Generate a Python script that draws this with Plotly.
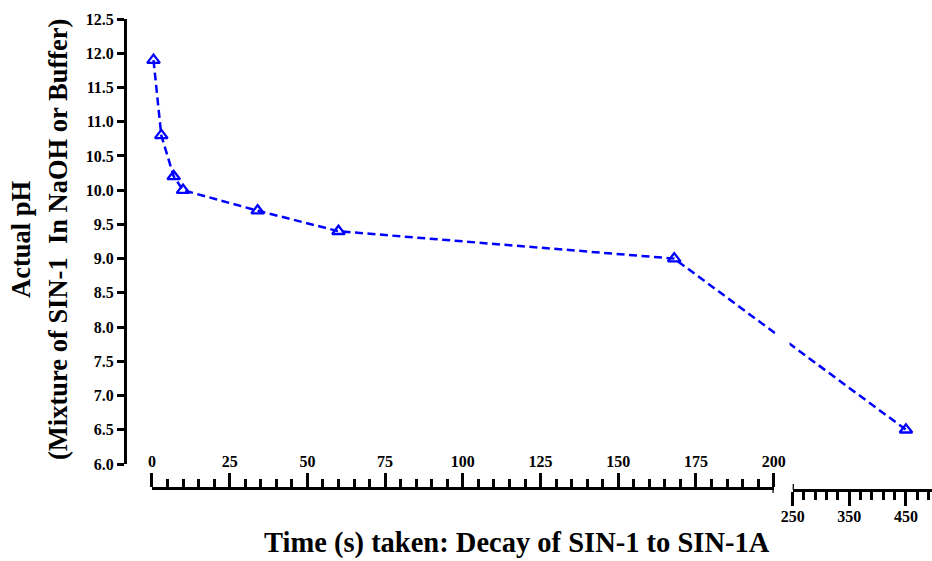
import plotly.graph_objects as go

# Measured pH of SIN-1 mixture over time
time_s = [0.5, 3, 7, 10, 34, 60, 168, 450]
ph = [11.9, 10.8, 10.2, 10.0, 9.7, 9.4, 9.0, 6.5]

y_ticks = [6.0, 6.5, 7.0, 7.5, 8.0, 8.5, 9.0, 9.5, 10.0, 10.5, 11.0, 11.5, 12.0, 12.5]
y_ticktext = [f"{v:.1f}" for v in y_ticks]
seg1_ticks = [0, 25, 50, 75, 100, 125, 150, 175, 200]
seg2_ticks = [250, 350, 450]

FONT = "Liberation Serif, Times New Roman, serif"
BLUE = "#0000FF"

# ---- broken x axis: 0-200 at full scale, 250-496 compressed ----
SEG1 = (0, 200)
SEG2 = (250, 496)
GAP = 6.1            # width of the break, in segment-1 units
SEG2_SCALE = 0.1822  # segment-2 seconds -> segment-1 units


def to_u(t):
    """Map a time value onto the continuous plotting coordinate."""
    if t <= SEG1[1]:
        return t
    return SEG1[1] + GAP + (t - SEG2[0]) * SEG2_SCALE


U_LEFT = -8.03
U_RIGHT = to_u(SEG2[1])


def frac(u):
    return (u - U_LEFT) / (U_RIGHT - U_LEFT)


W, H = 932, 561
M_L, M_R, M_T, M_B = 127, 0, 19, 61
PAPER_H = H - M_T - M_B
PLOT_W = W - M_L - M_R


def py(px_y):
    """Pixel row -> paper y fraction."""
    return (H - M_B - px_y) / PAPER_H


def px(px_x):
    """Pixel column -> paper x fraction."""
    return (px_x - M_L) / PLOT_W


y_dom0 = py(464)
pos_seg1 = py(488)
pos_seg2 = py(490)

fig = go.Figure()
fig.add_trace(go.Scatter(
    x=[to_u(t) for t in time_s],
    y=ph,
    mode="lines+markers",
    line=dict(color=BLUE, width=2.5, dash="8px,4.5px"),
    marker=dict(symbol="triangle-up-open", size=11, color=BLUE,
                line=dict(color=BLUE, width=2.3)),
    cliponaxis=False,
    showlegend=False,
    hoverinfo="skip",
))

tick_font = dict(family=FONT, size=16, color="black", weight="bold")

fig.update_layout(
    width=W, height=H,
    margin=dict(l=M_L, r=M_R, t=M_T, b=M_B, pad=0, autoexpand=False),
    paper_bgcolor="white", plot_bgcolor="rgba(0,0,0,0)",
    xaxis=dict(visible=False, range=[U_LEFT, U_RIGHT], domain=[0, 1],
               anchor="y", fixedrange=True, automargin=False),
    yaxis=dict(
        domain=[y_dom0, 1], range=[6.0, 12.5], autorange=False,
        tickmode="array", tickvals=y_ticks, ticktext=y_ticktext,
        ticks="outside", ticklen=7, tickwidth=2.5, tickcolor="black",
        showline=True, linewidth=3, linecolor="black",
        showgrid=False, zeroline=False, tickfont=tick_font,
        anchor="x", fixedrange=True, automargin=False,
    ),
    xaxis2=dict(
        domain=[frac(to_u(SEG1[0])), frac(to_u(SEG1[1]))],
        range=list(SEG1), autorange=False,
        anchor="free", position=pos_seg1, side="top",
        tickmode="array", tickvals=seg1_ticks,
        ticks="outside", ticklen=14, tickwidth=2.5, tickcolor="black",
        minor=dict(tickmode="linear", tick0=0, dtick=5, ticks="outside",
                   ticklen=8, tickwidth=2.5, tickcolor="black", showgrid=False),
        showline=True, linewidth=3, linecolor="black",
        showgrid=False, zeroline=False, tickfont=tick_font, fixedrange=True,
        automargin=False,
    ),
    xaxis3=dict(
        domain=[frac(to_u(SEG2[0])), 1],
        range=list(SEG2), autorange=False,
        anchor="free", position=pos_seg2, side="bottom",
        tickmode="array", tickvals=seg2_ticks,
        ticks="outside", ticklen=14, tickwidth=2.5, tickcolor="black",
        ticklabelstandoff=-3,
        minor=dict(tickmode="linear", tick0=250, dtick=20, ticks="outside",
                   ticklen=8, tickwidth=2.5, tickcolor="black", showgrid=False),
        showline=True, linewidth=3, linecolor="black",
        showgrid=False, zeroline=False, tickfont=tick_font, fixedrange=True,
        automargin=False,
    ),
)

# the data line is interrupted where the axis is broken
fig.add_shape(type="rect", xref="x", yref="y",
              x0=SEG1[1] + 0.6, x1=SEG1[1] + GAP - 1.0, y0=6.4, y1=12.5,
              fillcolor="white", line=dict(width=0), layer="above")

# end caps on either side of the break
fig.add_shape(type="line", xref="x2", yref="paper",
              x0=SEG1[1], x1=SEG1[1], y0=pos_seg1, y1=pos_seg1 - 5 / PAPER_H,
              line=dict(color="black", width=2.5))
fig.add_shape(type="line", xref="x3", yref="paper",
              x0=SEG2[0], x1=SEG2[0], y0=pos_seg2, y1=pos_seg2 + 6 / PAPER_H,
              line=dict(color="black", width=2.5))

title_font = dict(family=FONT, size=26.5, color="black", weight="bold")
fig.add_annotation(text="Actual pH", xref="paper", yref="paper",
                   x=px(21), y=py(240), textangle=-90, showarrow=False,
                   xanchor="center", yanchor="middle", font=title_font)
fig.add_annotation(text="(Mixture of SIN-1  In NaOH or Buffer)",
                   xref="paper", yref="paper",
                   x=px(58), y=py(240), textangle=-90, showarrow=False,
                   xanchor="center", yanchor="middle", font=title_font)
fig.add_annotation(text="Time (s) taken: Decay of SIN-1 to SIN-1A",
                   xref="paper", yref="paper",
                   x=px(517), y=py(543), showarrow=False,
                   xanchor="center", yanchor="middle",
                   font=dict(family=FONT, size=28.5, color="black", weight="bold"))

fig.write_html("out.html")
